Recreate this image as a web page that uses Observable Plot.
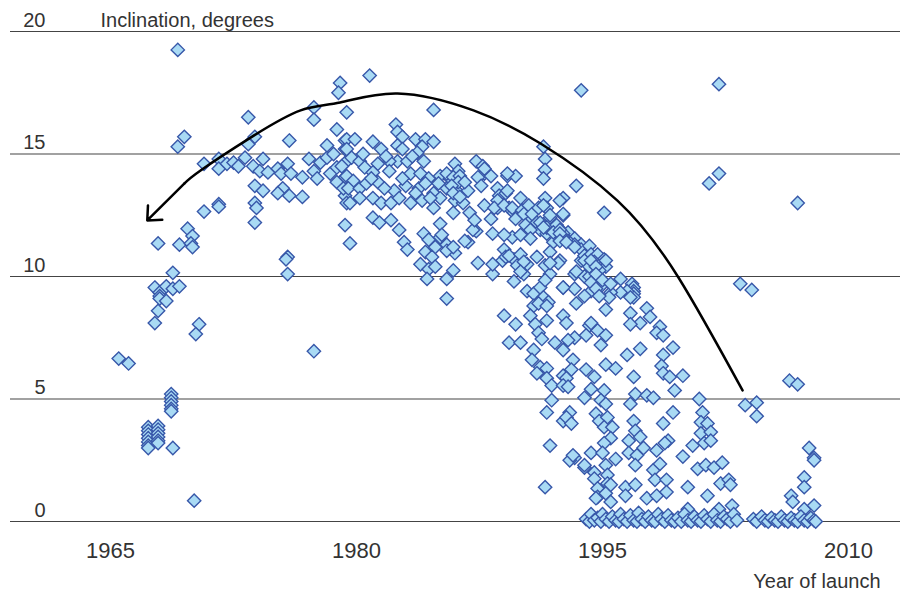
<!DOCTYPE html>
<html>
<head>
<meta charset="utf-8">
<script src="https://cdn.jsdelivr.net/npm/d3@7"></script>
<script src="https://cdn.jsdelivr.net/npm/@observablehq/plot@0.6"></script>
<style>
  html, body { margin: 0; padding: 0; background: #fff; }
  #chart svg { display: block; }
</style>
</head>
<body>
<div id="chart"></div>
<script>
// ---- Data: [year of launch, inclination in degrees] ----
const sats1960s = [
  [1965.5,6.65],[1966.1,6.45],
  [1967.3,3.85],[1967.3,3.7],[1967.3,3.55],[1967.3,3.4],[1967.3,3.25],[1967.3,3.1],[1967.3,3.0],
  [1967.9,3.9],[1967.9,3.75],[1967.9,3.6],[1967.9,3.45],[1967.9,3.3],[1967.9,3.2],
  [1968.7,5.2],[1968.7,5.05],[1968.7,4.9],[1968.7,4.75],[1968.7,4.6],[1968.7,4.5],
  [1968.8,3.0],[1970.1,0.85],
  [1967.7,8.1],[1967.9,8.6],
  [1967.7,9.55],[1968.0,9.35],[1968.0,9.2],[1968.0,9.1],[1968.4,9.0],[1968.4,9.6],[1968.8,9.5],[1969.2,9.6],
  [1968.8,10.15],[1970.4,8.05],[1970.2,7.65],
  [1967.9,11.35],[1969.7,11.95],[1970.0,11.65],[1969.2,11.3],[1969.9,11.35],[1970.0,11.2],
  [1969.1,19.25],[1969.5,15.7],[1969.1,15.3],
  [1970.7,12.65],[1971.6,12.95],[1971.6,12.85],
  [1970.7,14.6],[1971.6,14.8],[1971.6,14.4],[1972.1,14.6],[1972.5,14.65]
];
const sats1970s = [
  [1972.8,14.5],[1973.2,14.85],[1973.7,14.5],[1974.3,14.8],[1974.1,14.3],[1974.6,14.25],[1975.2,14.4],
  [1975.4,14.2],[1975.8,14.6],[1976.0,14.2],[1976.7,14.05],[1977.1,14.8],[1977.4,14.3],[1977.8,14.65],
  [1978.2,14.85],[1978.4,14.2],[1978.8,14.45],[1978.6,15.0],[1979.4,14.7],[1979.3,14.05],[1977.6,14.0],[1978.8,13.85],
  [1973.8,13.7],[1974.3,13.5],[1975.5,13.6],[1975.2,13.4],[1975.9,13.3],[1976.7,13.25],[1979.3,13.3],[1979.2,13.6],[1979.4,13.0],
  [1973.8,13.0],[1973.9,12.8],[1973.8,12.2],[1979.3,12.1],[1979.6,11.35],
  [1975.8,10.8],[1975.8,10.1],[1975.7,10.7],[1977.4,6.95],
  [1973.4,16.5],[1977.4,16.9],[1977.4,16.4],[1979.0,17.9],[1978.9,17.5],[1979.4,16.7],[1978.8,16.0],
  [1973.8,15.7],[1973.4,15.4],[1975.9,15.55],[1978.2,15.35],[1979.3,15.55],[1979.3,15.2],
  [1979.4,15.6],[1979.9,15.6],[1979.4,15.2],[1979.7,14.85],[1979.1,14.5],[1979.4,14.1],[1979.8,13.9],
  [1979.5,13.6],[1979.6,13.0]
];
const sats1980s = [
  [1980.8,18.2],[1984.7,16.8],[1982.4,16.2],[1982.5,15.9],[1982.8,15.7],[1981.0,15.5],[1981.5,15.2],
  [1983.6,15.6],[1984.2,15.6],[1984.7,15.5],[1982.5,15.35],[1982.8,15.2],[1984.0,15.3],[1983.7,15.05],
  [1984.1,14.7],[1982.5,14.7],
  [1980.2,14.7],[1980.5,14.45],[1981.3,14.6],[1982.0,14.7],[1983.1,14.7],[1982.0,14.3],[1981.0,14.25],
  [1983.3,14.2],[1983.9,14.2],[1984.4,14.0],[1985.1,14.1],[1986.0,14.6],[1986.2,14.3],[1987.3,14.7],
  [1987.7,14.5],[1987.8,14.2],[1988.2,14.1],[1989.2,14.1],[1989.7,14.1],[1985.7,14.0],[1986.3,14.0],
  [1980.2,13.6],[1980.6,13.8],[1981.3,13.85],[1982.3,13.5],[1983.0,13.7],[1983.8,13.6],[1984.2,13.8],
  [1984.7,13.4],[1985.5,13.6],[1986.1,13.5],[1986.8,13.5],
  [1980.2,13.2],[1981.0,13.2],[1981.5,13.0],[1982.1,13.0],[1982.6,13.2],[1983.3,13.0],[1984.0,13.1],
  [1984.7,12.8],[1985.1,13.2],[1986.0,13.1],[1986.5,13.0],[1987.8,12.9],[1988.6,13.6],[1988.7,13.3],[1989.1,13.4],
  [1988.6,12.8],[1989.3,12.8],[1989.6,12.6],
  [1981.0,12.4],[1981.4,12.2],[1982.1,12.3],[1982.6,11.9],[1982.9,11.4],[1983.1,11.1],[1984.1,11.75],
  [1984.4,11.5],[1984.8,11.2],[1985.1,11.6],[1985.5,11.3],[1984.2,11.0],[1984.6,10.8],[1983.9,10.5],
  [1984.4,10.3],[1984.8,10.4],[1985.9,10.25],[1984.3,9.9],[1985.5,9.9],[1986.0,10.95],[1986.8,11.4],
  [1987.3,11.85],[1988.3,11.75],[1989.0,11.1],[1988.9,10.65],[1989.6,10.7],[1987.4,10.55],[1988.3,10.1],[1989.6,9.8],
  [1985.5,9.1],[1989.0,8.4],[1989.7,8.05],[1989.3,7.3],
  [1987.8,14.4],[1985.5,14.2],[1985.9,14.05],[1986.3,14.1],[1986.2,13.85],[1986.6,13.85],[1985.8,13.7],
  [1987.4,14.05],[1987.6,13.7],[1985.9,13.4],[1986.3,13.25],[1985.9,12.6],[1989.2,14.2],[1989.2,13.5],
  [1988.6,13.1],[1988.4,12.8],[1989.0,12.9],[1988.2,12.35],[1989.5,12.8],[1989.7,12.35],[1989.5,11.6],
  [1989.0,11.7],[1987.1,11.9],[1986.6,11.45],[1985.1,12.15],[1985.2,11.7],[1985.5,11.05],[1985.9,11.2],
  [1988.3,10.5],[1989.1,10.8],[1989.3,10.85],[1989.8,10.45],
  [1980.9,14.0],[1981.7,13.6],[1982.8,14.0],[1983.6,13.4],[1980.4,15.0],[1981.8,14.9],[1983.4,14.9],
  [1985.0,13.8],[1984.5,13.2],[1986.9,12.6],[1987.2,12.3]
];
const sats1990to93 = [
  [1990.0,13.2],[1991.5,13.2],[1992.6,13.2],[1993.4,13.7],[1991.4,15.3],[1991.5,14.8],[1991.5,14.35],[1991.4,14.0],
  [1990.1,12.7],[1990.6,12.4],[1991.0,12.2],[1991.6,12.8],[1991.8,12.4],[1992.6,12.5],[1992.3,12.0],
  [1992.9,11.8],[1993.3,11.55],[1993.7,11.3],[1991.2,11.9],[1991.6,11.75],[1992.0,11.4],
  [1990.0,10.9],[1990.4,10.5],[1991.0,10.8],[1990.2,10.1],[1990.4,9.4],[1990.8,9.3],[1991.2,9.55],
  [1991.4,9.15],[1991.8,10.1],[1992.4,10.65],[1992.6,9.55],[1993.3,10.1],[1993.7,10.65],[1993.4,8.9],
  [1991.7,8.95],[1990.8,8.8],
  [1990.0,7.3],[1990.6,8.4],[1990.9,8.05],[1991.1,7.7],[1991.3,7.45],[1991.6,8.2],[1992.1,7.3],
  [1990.8,7.0],[1990.7,6.6],[1991.2,6.3],[1991.0,6.05],[1991.6,6.25],[1991.6,5.85],[1991.9,5.55],[1992.6,5.95],
  [1991.9,4.95],[1991.6,4.45],[1992.6,4.1],[1991.8,3.1],[1991.5,1.4],
  [1992.6,11.75],[1992.9,11.45],[1993.3,11.3],[1993.7,11.1],
  [1992.6,8.4],[1992.8,8.1],[1993.3,7.5],[1992.9,7.4],[1992.6,7.0],[1993.2,6.6],[1993.1,6.2],
  [1992.8,5.85],[1992.6,5.55],[1992.9,5.5],
  [1993.0,4.45],[1992.8,4.25],[1993.1,4.0],[1993.3,2.6],[1993.0,2.5],[1993.2,2.7],
  [1992.6,12.55],[1993.3,9.5],[1992.6,9.55],
  [1990.5,12.9],[1990.2,12.55],[1990.7,12.55],[1991.1,12.8],[1992.4,13.1],[1991.4,12.9],[1991.8,12.5],
  [1991.2,12.2],[1991.6,12.0],[1992.2,12.1],[1992.0,11.8],[1992.4,11.9],[1992.6,11.6],[1990.3,12.1],
  [1990.6,11.9],[1990.0,11.7],[1990.6,11.55],[1990.2,10.6],[1991.8,11.0],[1991.5,10.45],[1992.3,10.55],
  [1990.0,10.2],[1991.4,12.0],[1992.4,11.75],[1992.4,11.45],[1992.8,11.4],[1993.3,11.2],[1993.9,10.85],
  [1991.8,10.55],[1993.9,10.0],[1991.5,9.85],[1991.1,8.9],[1991.6,8.8]
];
const sats1994to02 = [
  [1993.7,17.6],[1994.2,11.25],[1994.3,10.9],[1994.7,10.9],[1995.1,10.7],[1995.2,10.4],[1993.9,10.65],
  [1994.5,10.6],[1994.8,10.25],[1993.4,10.2],[1994.2,10.0],[1994.2,10.4],[1995.1,12.6],
  [1996.1,9.9],[1996.8,9.7],[1996.9,9.55],[1996.9,9.4],[1996.9,9.3],[1996.9,9.15],[1996.5,9.4],[1996.1,9.35],
  [1995.5,9.35],[1995.4,9.15],[1994.9,9.6],[1994.3,9.4],[1993.9,9.2],
  [1995.2,8.65],[1996.7,8.5],[1997.7,8.7],[1997.9,8.35],[1997.3,8.1],[1996.7,8.05],[1998.5,7.95],[1998.3,7.7],[1998.7,7.6],
  [1994.2,8.0],[1994.7,7.8],[1995.2,7.6],[1994.0,7.6],[1994.9,7.2],
  [1997.3,7.05],[1996.5,6.8],[1999.3,7.1],[1998.7,6.8],
  [1994.0,6.2],[1995.2,6.4],[1995.8,6.25],[1994.5,5.9],[1996.9,5.9],[1998.6,6.35],[1998.7,6.05],[1999.1,5.9],
  [1999.9,5.95],[1999.4,5.35],
  [1993.9,5.05],[1995.1,5.35],[1997.0,5.2],[1997.7,5.15],[2000.9,5.0],
  [1994.3,5.4],[1994.9,4.95],[1995.2,4.8],[1996.7,4.8],[1998.1,5.05],[2001.1,4.45],[1999.3,4.45],
  [1994.6,4.4],[1994.8,4.1],[1995.3,4.25],[1995.1,3.85],[1995.6,3.85],[1996.9,4.1],[1997.0,3.7],[1998.7,4.0],
  [2001.0,4.05],[2001.4,4.0],[2001.0,3.6],[2001.6,3.65],[2001.2,3.2],[2001.6,3.3],[2000.5,3.1],
  [1995.5,3.4],[1995.1,3.2],[1996.6,3.3],[1997.3,3.45],[1997.5,3.0],[1998.3,2.9],[1999.0,3.3],[1998.8,3.2],[1999.9,2.65],
  [1993.9,2.2],[1994.3,2.8],[1995.0,2.8],[1995.2,2.3],[1995.8,2.55],[1996.6,2.8],[1997.1,2.7],[1997.0,2.3],
  [1998.1,2.1],[1998.5,2.35],[2000.8,2.15],[2001.3,2.3],[2001.8,2.2],[2002.3,2.4],
  [1994.5,2.0],[1995.3,1.9],[1994.5,1.75],[1998.2,1.7],[1998.9,1.7],[2000.2,1.4],[2001.4,1.05],[2002.2,1.55],
  [2002.7,1.7],[2002.8,1.5],
  [1994.7,1.35],[1995.3,1.55],[1996.4,1.4],[1997.0,1.5],[1994.7,1.0],[1995.2,1.15],[1995.5,0.8],[1996.4,1.05],
  [1997.7,0.95],[1998.3,1.05],[1998.9,1.2],[2002.9,0.65],[2000.2,0.5],[2002.1,0.5],
  [1995.5,1.5],[1994.6,0.95],[1993.9,2.3],
  [1994.3,10.65],[1995.2,10.65],[1994.6,10.4],[1994.6,10.1],[1995.0,9.85],[1994.3,9.75],[1995.5,9.7],
  [1994.6,9.5],[1994.8,9.2],[1996.7,9.15],[1994.3,8.1]
];
const sats2000s = [
  [2002.1,17.85],[2002.1,14.2],[2001.5,13.8],[2006.9,13.0],[2003.4,9.7],[2004.1,9.45],[2006.4,5.75],[2006.9,5.6],
  [2003.7,4.75],[2004.4,4.85],[2004.4,4.3],[2007.6,3.0],[2007.9,2.6],[2007.9,2.5],[2007.3,1.8],[2007.3,1.4],
  [2006.5,1.05],[2006.6,0.8],[2007.3,0.5],[2007.9,0.65]
];
const satsNearZero = [
  [1994.0,0.1],[1994.2,0.0],[1994.3,0.3],[1994.5,0.05],[1994.7,0.15],[1994.9,0.0],[1995.0,0.3],[1995.2,0.1],
  [1995.4,0.0],[1995.6,0.2],[1995.8,0.05],[1996.0,0.0],[1996.1,0.3],[1996.3,0.1],[1996.5,0.0],[1996.7,0.25],
  [1996.9,0.05],[1997.1,0.0],[1997.2,0.35],[1997.4,0.1],[1997.6,0.0],[1997.8,0.2],[1998.0,0.05],[1998.2,0.0],
  [1998.4,0.3],[1998.6,0.1],[1998.8,0.0],[1999.0,0.25],[1999.2,0.05],[1999.4,0.0],[1999.6,0.15],[1999.8,0.0],
  [2000.0,0.3],[2000.2,0.05],[2000.4,0.0],[2000.6,0.2],[2000.8,0.05],[2001.0,0.0],[2001.2,0.25],[2001.4,0.1],
  [2001.6,0.0],[2001.8,0.3],[2002.0,0.05],[2002.2,0.0],[2002.4,0.2],[2002.6,0.1],[2002.8,0.0],[2003.0,0.3],[2003.2,0.05],
  [2004.2,0.1],[2004.4,0.0],[2004.7,0.2],[2004.9,0.05],[2005.1,0.0],[2005.3,0.15],[2005.5,0.05],[2005.7,0.0],
  [2005.9,0.2],[2006.1,0.05],[2006.3,0.0],[2006.5,0.15],[2006.7,0.05],[2006.9,0.0],[2007.1,0.2],[2007.3,0.05],
  [2007.5,0.0],[2007.7,0.15],[2007.9,0.05],[2008.0,0.0]
];

// Axis ticks and labels
const xTicks = [1965, 1980, 1995, 2010];
const yTicks = [0, 5, 10, 15, 20];
const yLabel = "Inclination, degrees";
const xLabel = "Year of launch";

// Annotation arrow path (year, degrees)
const arrowPath = [
  [2003.54,5.35],[1999.63,9.96],[1995.91,13.10],[1991.22,15.43],[1987.13,16.78],[1982.50,17.47],
  [1979.0,17.1],[1976.59,16.78],[1973.54,15.67],[1970.49,14.33],[1969.51,13.80]
];
const arrowHead = [{x1: 1969.51, y1: 13.80, x2: 1967.24, y2: 12.29}];

const satellites = [...sats1960s, ...sats1970s, ...sats1980s, ...sats1990to93, ...sats1994to02, ...sats2000s, ...satsNearZero];

const textColor = "#333";
const font = "'Liberation Sans', Arial, sans-serif";

const chart = Plot.plot({
  width: 904,
  height: 592,
  marginLeft: 10,
  marginRight: 4,
  marginTop: 31,
  marginBottom: 71,
  x: {domain: [1958.9, 2013.17], axis: null},
  y: {domain: [0, 20], axis: null},
  style: {fontFamily: font, fontSize: "20px", color: textColor, background: "#fff", overflow: "visible"},
  marks: [
    Plot.ruleY(yTicks, {stroke: "#444", strokeWidth: 1.2}),
    Plot.text(yTicks, {y: d => d, text: d => String(d), frameAnchor: "left", dx: 35, dy: -5,
      textAnchor: "end", lineAnchor: "bottom", fill: textColor, fontSize: 20}),
    Plot.text(xTicks, {x: d => d, text: d => String(d), frameAnchor: "bottom", dy: 36,
      lineAnchor: "bottom", fill: textColor, fontSize: 22}),
    Plot.text([yLabel], {text: d => d, frameAnchor: "top-left", dx: 90, dy: -5,
      textAnchor: "start", lineAnchor: "bottom", fill: textColor, fontSize: 20}),
    Plot.text([xLabel], {text: d => d, frameAnchor: "bottom-right", dx: -20, dy: 66,
      textAnchor: "end", lineAnchor: "bottom", fill: textColor, fontSize: 20}),
    Plot.dot(satellites, {x: d => d[0], y: d => d[1], symbol: "diamond2", r: 6,
      fill: "#a9daf4", stroke: "#3757a9", strokeWidth: 1.4}),
    Plot.line(arrowPath, {x: d => d[0], y: d => d[1], curve: "natural", stroke: "#000", strokeWidth: 2.5}),
    Plot.arrow(arrowHead, {x1: "x1", y1: "y1", x2: "x2", y2: "y2", stroke: "#000", strokeWidth: 2.5,
      headLength: 9, headAngle: 85})
  ]
});
document.getElementById("chart").appendChild(chart);
</script>
</body>
</html>
